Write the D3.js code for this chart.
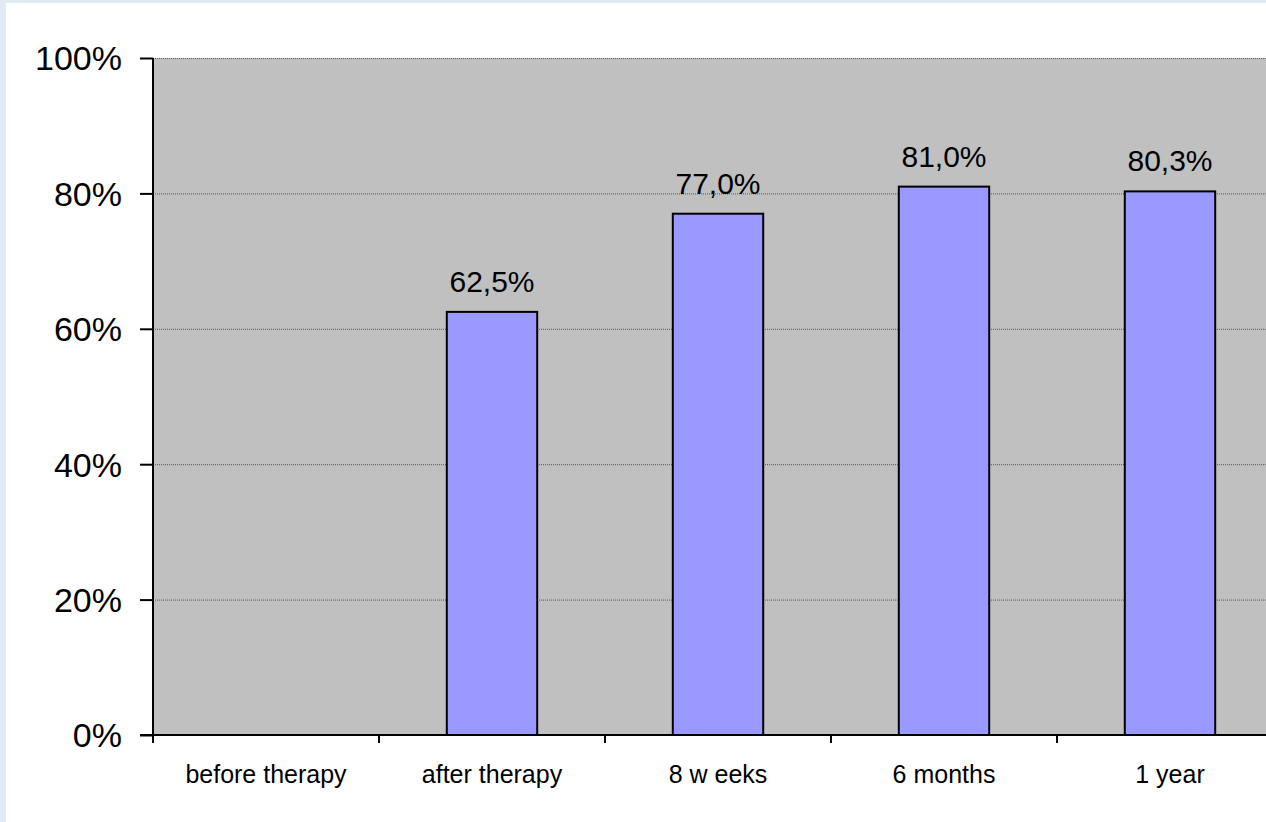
<!doctype html>
<html>
  <head>
    <script src="https://cdnjs.cloudflare.com/ajax/libs/d3/7.8.5/d3.min.js"></script>
    <style>
      body { margin: 0; background: #dfeaf4; }
      svg { display: block; }
      text { font-family: "Liberation Sans", Arial, sans-serif; fill: #000; }
      .grid line { stroke: #555; stroke-width: 1px; stroke-dasharray: 1,1; }
    </style>
  </head>
  <body>
    <svg style="width:1266px;height:822px;"></svg>
    <script>
      var categories = ["before therapy", "after therapy", "8 w eeks", "6 months", "1 year"];
      var values = [null, 62.5, 77.0, 81.0, 80.3];
      var valueLabels = ["", "62,5%", "77,0%", "81,0%", "80,3%"];
      var yTicks = [0, 20, 40, 60, 80, 100];

      var svg = d3.select("svg");

      // white card over the light blue frame
      svg.append("rect")
        .attr("x", 6).attr("y", 3)
        .attr("width", 1266).attr("height", 822)
        .attr("fill", "#fff");

      var plotLeft = 153, plotTop = 58, plotBottom = 735, plotRight = 1283;

      var x = d3.scaleBand()
        .domain(categories)
        .range([plotLeft, plotRight])
        .paddingInner(0.6)
        .paddingOuter(0.3);

      var y = d3.scaleLinear().domain([0, 100]).range([plotBottom, plotTop]);

      svg.append("rect")
        .attr("x", plotLeft).attr("y", plotTop)
        .attr("width", plotRight - plotLeft).attr("height", plotBottom - plotTop)
        .attr("fill", "#c0c0c0");

      svg.append("g")
          .attr("class", "grid")
        .selectAll("line")
        .data(yTicks.filter(d => d > 0))
        .enter()
        .append("line")
          .attr("x1", plotLeft).attr("x2", plotRight)
          .attr("y1", d => y(d) + 0.5).attr("y2", d => y(d) + 0.5);

      var bars = categories.map((c, i) => ({ cat: c, v: values[i], lab: valueLabels[i] }))
        .filter(d => d.v != null);

      svg.append("g")
        .selectAll("rect")
        .data(bars)
        .enter()
        .append("rect")
          .attr("x", d => x(d.cat))
          .attr("y", d => y(d.v))
          .attr("width", x.bandwidth())
          .attr("height", d => plotBottom - y(d.v))
          .attr("fill", "#9999ff")
          .attr("stroke", "#000")
          .attr("stroke-width", 2);

      svg.append("g")
        .selectAll("text")
        .data(bars)
        .enter()
        .append("text")
          .attr("x", d => x(d.cat) + x.bandwidth() / 2)
          .attr("y", d => y(d.v) - 20)
          .attr("text-anchor", "middle")
          .style("font-size", "30px")
          .text(d => d.lab);

      // y axis
      var yAxis = svg.append("g")
        .attr("transform", `translate(${plotLeft},0)`)
        .call(d3.axisLeft(y).tickValues(yTicks).tickFormat(d => d + "%").tickSize(13).tickPadding(18));
      yAxis.select(".domain").attr("stroke", "#000").attr("stroke-width", 2).attr("d", `M0,${plotTop}V${plotBottom}`);
      yAxis.selectAll(".tick line").attr("stroke", "#000").attr("stroke-width", 2);
      yAxis.selectAll("text").style("font-size", "34px").attr("dy", "0.35em");

      // x axis
      var xAxis = svg.append("g")
        .attr("transform", `translate(0,${plotBottom})`);
      xAxis.append("line")
        .attr("x1", plotLeft - 13).attr("x2", plotRight)
        .attr("stroke", "#000").attr("stroke-width", 2);
      var step = x.step();
      xAxis.selectAll("line.tk")
        .data(d3.range(categories.length + 1))
        .enter()
        .append("line")
          .attr("class", "tk")
          .attr("x1", i => plotLeft + i * step).attr("x2", i => plotLeft + i * step)
          .attr("y1", 0).attr("y2", 8)
          .attr("stroke", "#000").attr("stroke-width", 2);
      xAxis.selectAll("text")
        .data(categories)
        .enter()
        .append("text")
          .attr("x", d => x(d) + x.bandwidth() / 2)
          .attr("y", 48)
          .attr("text-anchor", "middle")
          .style("font-size", "25px")
          .text(d => d);
    </script>
  </body>
</html>
